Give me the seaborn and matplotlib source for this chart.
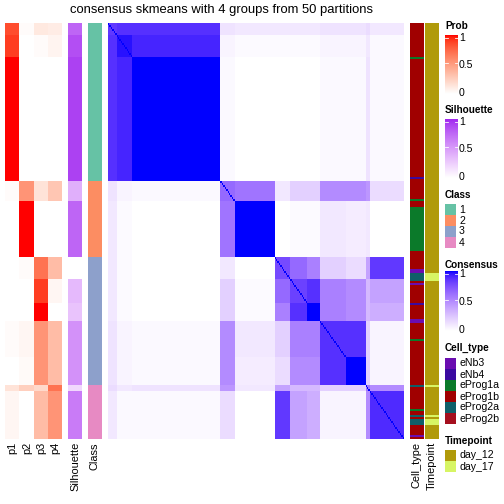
import numpy as np
import pandas as pd
import matplotlib
matplotlib.use('Agg')
import matplotlib.pyplot as plt
import seaborn as sns
from matplotlib.colors import ListedColormap, to_rgb

# podaci -------------------------------------------------------------
# pod-grupe uzoraka (redosled kao na slici)
sub_names = ['1a', '1b', '1c', '2a', '2b', '3a', '3b1', '3b2', '3c1', '3c2', '4a', '4b']
sub_sizes = [6, 11, 62, 10, 28, 11, 12, 9, 18, 14, 3, 24]
sub_class = [1, 1, 1, 2, 2, 3, 3, 3, 3, 3, 4, 4]

# verovatnoce p1..p4 po pod-grupi
p1 = [0.85, 0.90, 1.00, 0.02, 0.00, 0.00, 0.00, 0.00, 0.02, 0.00, 0.15, 0.05]
p2 = [0.02, 0.00, 0.00, 0.55, 1.00, 0.02, 0.00, 0.00, 0.05, 0.03, 0.25, 0.00]
p3 = [0.12, 0.02, 0.00, 0.15, 0.00, 0.70, 0.90, 1.00, 0.55, 0.55, 0.20, 0.35]
p4 = [0.10, 0.06, 0.00, 0.30, 0.00, 0.35, 0.05, 0.00, 0.35, 0.35, 0.70, 0.55]
silhouette = [0.75, 0.85, 0.90, 0.40, 0.75, 0.00, 0.35, 0.30, 0.55, 0.55, 0.20, 0.65]

# konsenzus izmedju pod-grupa
consensus_blocks = [
    [0.85, 0.88, 0.88, 0.12, 0.10, 0.10, 0.10, 0.10, 0.12, 0.12, 0.15, 0.10],
    [0.88, 0.97, 0.92, 0.05, 0.02, 0.02, 0.02, 0.02, 0.05, 0.05, 0.10, 0.03],
    [0.88, 0.92, 1.00, 0.03, 0.00, 0.00, 0.00, 0.00, 0.03, 0.03, 0.12, 0.03],
    [0.12, 0.05, 0.03, 0.65, 0.60, 0.10, 0.20, 0.20, 0.50, 0.50, 0.45, 0.15],
    [0.10, 0.02, 0.00, 0.60, 1.00, 0.00, 0.02, 0.02, 0.10, 0.08, 0.10, 0.00],
    [0.10, 0.02, 0.00, 0.10, 0.00, 0.78, 0.65, 0.55, 0.20, 0.15, 0.40, 0.85],
    [0.10, 0.02, 0.00, 0.20, 0.02, 0.65, 0.82, 0.88, 0.55, 0.50, 0.30, 0.40],
    [0.10, 0.02, 0.00, 0.20, 0.02, 0.55, 0.88, 1.00, 0.55, 0.50, 0.30, 0.35],
    [0.12, 0.05, 0.03, 0.50, 0.10, 0.20, 0.55, 0.55, 0.88, 0.88, 0.20, 0.05],
    [0.12, 0.05, 0.03, 0.50, 0.08, 0.15, 0.50, 0.50, 0.88, 1.00, 0.20, 0.05],
    [0.15, 0.10, 0.12, 0.45, 0.10, 0.40, 0.30, 0.30, 0.20, 0.20, 0.60, 0.50],
    [0.10, 0.03, 0.03, 0.15, 0.00, 0.85, 0.40, 0.35, 0.05, 0.05, 0.50, 0.90],
]

# anotacije po uzorku (run-length)
cell_type_labels = ['eProg1b', 'eProg1a', 'eProg1b', 'eNb4', 'eProg1b', 'eProg1a', 'eProg1b',
                    'eProg1a', 'eProg1b', 'eNb3', 'eProg2a', 'eProg1b', 'eNb3', 'eProg1b',
                    'eNb4', 'eProg1b', 'eNb3', 'eProg1b', 'eProg1a', 'eProg1b', 'eProg2a',
                    'eProg1b', 'eProg1a', 'eProg1b', 'eProg2a', 'eProg1b', 'eProg2a',
                    'eProg1b', 'eNb3', 'eProg1b']
cell_type_counts = [17, 1, 59, 1, 10, 1, 3, 22, 9, 2, 4, 1, 1, 9, 1, 7, 2, 8, 1, 22, 1,
                    11, 1, 2, 1, 1, 3, 5, 1, 1]
timepoint_labels = ['day_12', 'day_17', 'day_12', 'day_17', 'day_12', 'day_17', 'day_12',
                    'day_17', 'day_12']
timepoint_counts = [125, 4, 52, 1, 14, 1, 1, 3, 7]

cell_types = ['eNb3', 'eNb4', 'eProg1a', 'eProg1b', 'eProg2a', 'eProg2b']
cell_type_colors = ['#6a0db0', '#3a0aa0', '#0b7a2a', '#a00000', '#0f5f69', '#a50f1e']
timepoints = ['day_12', 'day_17']
timepoint_colors = ['#b09a0a', '#d7f564']
class_colors = ['#66c2a5', '#fc8d62', '#8da0cb', '#e78ac3']

plt.rcParams['font.family'] = ['Liberation Sans', 'DejaVu Sans']


# boje: interpolacija u LAB prostoru (kao colorRamp2)
def rgb2lab(c):
    c = np.array(to_rgb(c))
    lin = np.where(c > 0.04045, ((c + 0.055) / 1.055) ** 2.4, c / 12.92)
    M = np.array([[0.4124, 0.3576, 0.1805], [0.2126, 0.7152, 0.0722], [0.0193, 0.1192, 0.9505]])
    xyz = M @ lin / np.array([0.95047, 1.0, 1.08883])
    f = np.where(xyz > (6 / 29) ** 3, np.cbrt(xyz), xyz / (3 * (6 / 29) ** 2) + 4 / 29)
    return np.array([116 * f[1] - 16, 500 * (f[0] - f[1]), 200 * (f[1] - f[2])])


def lab2rgb(lab):
    L, a, b = lab
    fy = (L + 16) / 116
    f = np.array([fy + a / 500, fy, fy - b / 200])
    xyz = np.where(f > 6 / 29, f ** 3, 3 * (6 / 29) ** 2 * (f - 4 / 29)) * np.array([0.95047, 1.0, 1.08883])
    Minv = np.array([[3.2406, -1.5372, -0.4986], [-0.9689, 1.8758, 0.0415], [0.0557, -0.2040, 1.0570]])
    lin = np.clip(Minv @ xyz, 0, 1)
    return np.clip(np.where(lin > 0.0031308, 1.055 * lin ** (1 / 2.4) - 0.055, 12.92 * lin), 0, 1)


def lab_cmap(c_hi):
    lo, hi = rgb2lab('#ffffff'), rgb2lab(c_hi)
    return ListedColormap([lab2rgb(lo + t * (hi - lo)) for t in np.linspace(0, 1, 256)])


cm_prob = lab_cmap('#ff0000')
cm_sil = lab_cmap('#a020f0')
cm_cons = lab_cmap('#0000ff')

# priprema matrica ---------------------------------------------------
idx = np.repeat(np.arange(len(sub_names)), sub_sizes)
cons = np.array(consensus_blocks)[np.ix_(idx, idx)]
np.fill_diagonal(cons, 1.0)

prob = pd.DataFrame({'p1': np.array(p1)[idx], 'p2': np.array(p2)[idx],
                     'p3': np.array(p3)[idx], 'p4': np.array(p4)[idx]})
sil = np.array(silhouette)[idx][:, None]
cls = (np.array(sub_class)[idx] - 1)[:, None]
ct = np.array([cell_types.index(c) for c in np.repeat(cell_type_labels, cell_type_counts)])[:, None]
tp = np.array([timepoints.index(t) for t in np.repeat(timepoint_labels, timepoint_counts)])[:, None]

# crtanje -------------------------------------------------------------
W = H = 504
fig = plt.figure(figsize=(7, 7), dpi=72)


def box(x0, x1, y0, y1):
    return fig.add_axes([x0 / W, 1 - y1 / H, (x1 - x0) / W, (y1 - y0) / H])


TOP, BOT = 23, 439
panels = [
    (5, 62, prob.values, cm_prob, 0, 1),
    (68, 82, sil, cm_sil, 0, 1),
    (88, 102, cls, ListedColormap(class_colors), -0.5, 3.5),
    (108, 404, cons, cm_cons, 0, 1),
    (410, 424, ct, ListedColormap(cell_type_colors), -0.5, 5.5),
    (425, 439, tp, ListedColormap(timepoint_colors), -0.5, 1.5),
]
for x0, x1, mat, cmap, vmin, vmax in panels:
    ax = box(x0, x1, TOP, BOT)
    sns.heatmap(mat, ax=ax, cmap=cmap, vmin=vmin, vmax=vmax, cbar=False,
                xticklabels=False, yticklabels=False)
    ax.set_xlabel('')
    ax.set_ylabel('')

# oznake ispod
bottom_labels = [('p1', 12.5), ('p2', 27), ('p3', 41), ('p4', 55), ('Silhouette', 75),
                 ('Class', 95), ('Cell_type', 417), ('Timepoint', 432)]
for txt, xc in bottom_labels:
    fig.text(xc / W, 1 - 442 / H, txt, rotation=90, ha='center', va='top', fontsize=11)

fig.text(222 / W, 1 - 10 / H, 'consensus skmeans with 4 groups from 50 partitions',
         ha='center', va='center', fontsize=13)

# legende
LX = 445


def legend_title(txt, y):
    fig.text(LX / W, 1 - y / H, txt, ha='left', va='center', fontsize=10, fontweight='bold')


def legend_bar(cmap, y_one, y_zero, title, title_y):
    legend_title(title, title_y)
    ax = box(LX, LX + 13, y_one - 3, y_zero + 1)
    ax.imshow(np.linspace(1, 0, 100)[:, None], aspect='auto', cmap=cmap, vmin=0, vmax=1,
              extent=[0, 1, -0.1, 1.05])
    ax.set_ylim(-0.1, 1.05)
    for v in [1, 0.5]:
        ax.plot([0, 0.25], [v, v], color='white', lw=0.8)
        ax.plot([0.75, 1], [v, v], color='white', lw=0.8)
    ax.axis('off')
    for v, lab in [(1, '1'), (0.5, '0.5'), (0, '0')]:
        y = y_zero - v * (y_zero - y_one)
        fig.text(459 / W, 1 - y / H, lab, ha='left', va='center', fontsize=10.5)


def legend_boxes(title, title_y, labels, colors, y_start):
    legend_title(title, title_y)
    for i, (lab, col) in enumerate(zip(labels, colors)):
        y0 = y_start + i * 11
        ax = box(LX, LX + 11, y0, y0 + 10.5)
        ax.set_facecolor(col)
        ax.set_xticks([])
        ax.set_yticks([])
        for s in ax.spines.values():
            s.set_visible(False)
        fig.text(459 / W, 1 - (y0 + 5.5) / H, lab, ha='left', va='center', fontsize=10.5)


legend_bar(cm_prob, 38, 93, 'Prob', 26)
legend_bar(cm_sil, 122, 177, 'Silhouette', 110)
legend_boxes('Class', 195, ['1', '2', '3', '4'], class_colors, 204)
legend_bar(cm_cons, 274, 330, 'Consensus', 265)
legend_boxes('Cell_type', 348, cell_types, cell_type_colors, 358)
legend_boxes('Timepoint', 441, timepoints, timepoint_colors, 450)

fig.savefig('out.png', dpi=72)
